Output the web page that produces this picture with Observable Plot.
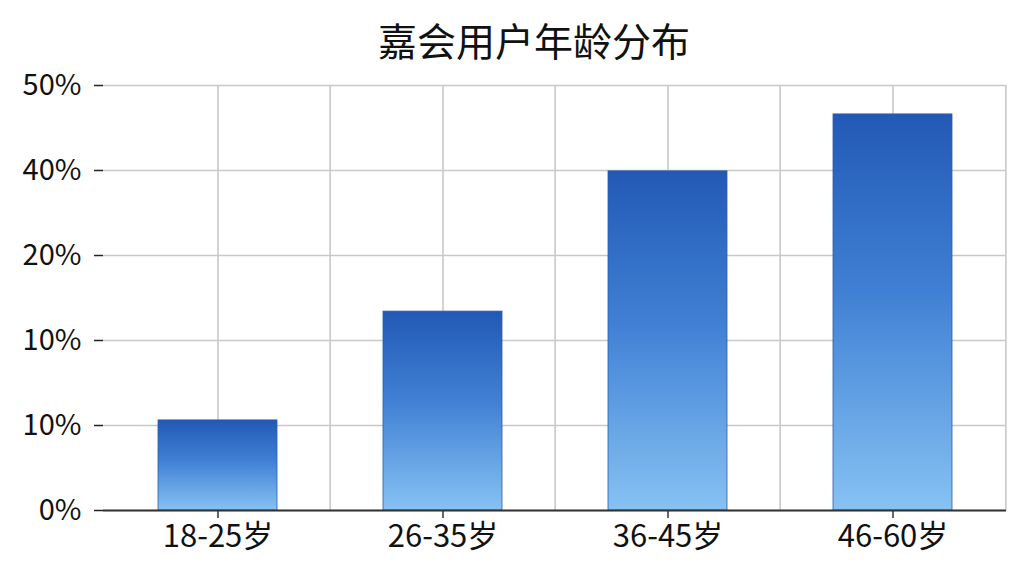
<!DOCTYPE html>
<html>
<head>
<meta charset="utf-8">
<script src="https://cdn.jsdelivr.net/npm/d3@7"></script>
<script src="https://cdn.jsdelivr.net/npm/@observablehq/plot@0.6"></script>
<style>
  html, body { margin: 0; padding: 0; background: #fff; }
  body { width: 1024px; height: 576px; overflow: hidden; font-family: "Noto Sans CJK SC", "Noto Sans", sans-serif; }
  #title { height: 56px; position: relative; }
  #title span { position: absolute; left: 534px; top: 39px; transform: translate(-50%, -50%); font-size: 39px; font-weight: 400; color: #111; white-space: nowrap; font-family: "Noto Sans CJK SC", sans-serif; }
  #chart svg { display: block; overflow: visible; }
</style>
</head>
<body>
<div id="title"><span>嘉会用户年龄分布</span></div>
<div id="chart"></div>
<script>
const titleText = "嘉会用户年龄分布";
const categories = ["18-25岁", "26-35岁", "36-45岁", "46-60岁"];
// values in units of the y-axis tick positions (ticks evenly spaced, labelled as in the original)
const values = [1.06, 2.34, 3.99, 4.66];
const yTickPositions = [0, 1, 2, 3, 4, 5];
const yTickLabels = ["0%", "10%", "10%", "20%", "40%", "50%"];

const data = categories.map((c, i) => ({ category: c, value: values[i] }));

const W = 1024, H = 520;
const mL = 103, mR = 18, mT = 29, mB = 66;
const step = (W - mL - mR) / categories.length;

const chart = Plot.plot({
  width: W,
  height: H,
  marginLeft: mL,
  marginRight: mR,
  marginTop: mT,
  marginBottom: mB,
  style: { fontFamily: "'Noto Sans CJK SC', 'Noto Sans', sans-serif", background: "#fff", color: "#111" },
  x: { domain: categories, paddingInner: 0.473, paddingOuter: 0.2365, label: null },
  y: { domain: [0, 5], label: null },
  marks: [
    () => {
      const svgNS = "http://www.w3.org/2000/svg";
      const defs = document.createElementNS(svgNS, "defs");
      defs.innerHTML = `<linearGradient id="barGrad" x1="0" y1="0" x2="0" y2="1">
          <stop offset="0%" stop-color="#2259b6"/>
          <stop offset="45%" stop-color="#4080d4"/>
          <stop offset="100%" stop-color="#86c2f3"/>
        </linearGradient>`;
      return defs;
    },
    Plot.gridY(yTickPositions, { stroke: "#c8c8c8", strokeOpacity: 1, strokeWidth: 1.6 }),
    Plot.gridX(categories, { stroke: "#c8c8c8", strokeOpacity: 1, strokeWidth: 1.6 }),
    Plot.ruleX(categories.slice(1), { x: d => d, dx: -step / 2, stroke: "#c8c8c8", strokeWidth: 1.6 }),
    Plot.ruleX(categories.slice(-1), { x: d => d, dx: step / 2, stroke: "#c8c8c8", strokeWidth: 1.6 }),
    Plot.barY(data, { x: "category", y: "value", fill: "url(#barGrad)", stroke: "#2a5db0", strokeWidth: 0.8 }),
    Plot.axisY(yTickPositions, {
      tickFormat: (d, i) => yTickLabels[i],
      tickSize: 9, tickPadding: 13, fontSize: 29, stroke: "#222", strokeWidth: 1.5, color: "#111"
    }),
    Plot.ruleX([0], { frameAnchor: "left", stroke: "#222", strokeWidth: 2 }),
    Plot.axisX(categories, { tickSize: 8, tickPadding: 6, fontSize: 31, stroke: "#333", strokeWidth: 1.5, color: "#111" }),
    Plot.ruleY([0], { stroke: "#333", strokeWidth: 2 })
  ]
});
document.getElementById("chart").appendChild(chart);
</script>
</body>
</html>
